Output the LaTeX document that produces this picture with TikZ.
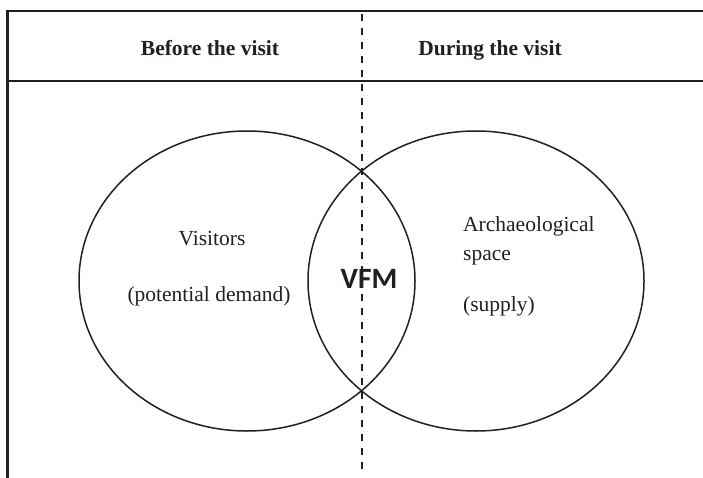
\documentclass[tikz,border=0pt]{standalone}
\usepackage{fontspec}
\usetikzlibrary{shapes.geometric}
\setmainfont{Liberation Serif}
\newfontfamily\vfmfont{Carlito}
\definecolor{ink}{HTML}{231F20}
\begin{document}
\begin{tikzpicture}[x=1pt,y=-1pt,
  frame/.style={draw=ink, line width=2.2pt},
  divider/.style={draw=ink, line width=2pt, dash pattern=on 7pt off 7pt},
  setshape/.style={draw=ink, line width=1.5pt, ellipse, inner sep=0pt, minimum width=336pt, minimum height=300pt},
  head/.style={text=ink, anchor=base, font=\fontsize{21.5}{26}\selectfont\bfseries},
  lbl/.style={text=ink, font=\fontsize{21.5}{26}\selectfont},
  vfm/.style={text=ink, anchor=base, font=\vfmfont\fontsize{29.5}{34}\selectfont\bfseries}]
\useasboundingbox (0,0) rectangle (703,478);
\fill[white] (0,0) rectangle (703,478);
\coordinate (tl) at (7.5,11.3);
\coordinate (tr) at (703,11.3);
\coordinate (bl) at (7.5,478);
\coordinate (hl) at (7.5,81.3);
\coordinate (hr) at (703,81.3);
\coordinate (dt) at (362,14);
\coordinate (db) at (362,474);
\draw[frame] (tr) -- (tl) -- (bl);
\draw[frame] (hl) -- (hr);
\node[head] (before) at (210,56) {Before the visit};
\node[head] (during) at (490,56) {During the visit};
\node[setshape] (demand) at (247,281) {};
\node[setshape] (supply) at (476,281) {};
\draw[divider] (dt) -- (db);
\node[lbl, anchor=base] (visitors) at (212,245) {Visitors};
\node[lbl, anchor=base] (potential) at (209,301) {(potential demand)};
\node[lbl, anchor=base west, inner sep=0pt] (arch) at (463,232) {Archaeological};
\node[lbl, anchor=base west, inner sep=0pt] (space) at (463,260) {space};
\node[lbl, anchor=base west, inner sep=0pt] (suppl) at (463,311) {(supply)};
\node[vfm] (vfm) at (369,288) {VFM};
\end{tikzpicture}
\end{document}
